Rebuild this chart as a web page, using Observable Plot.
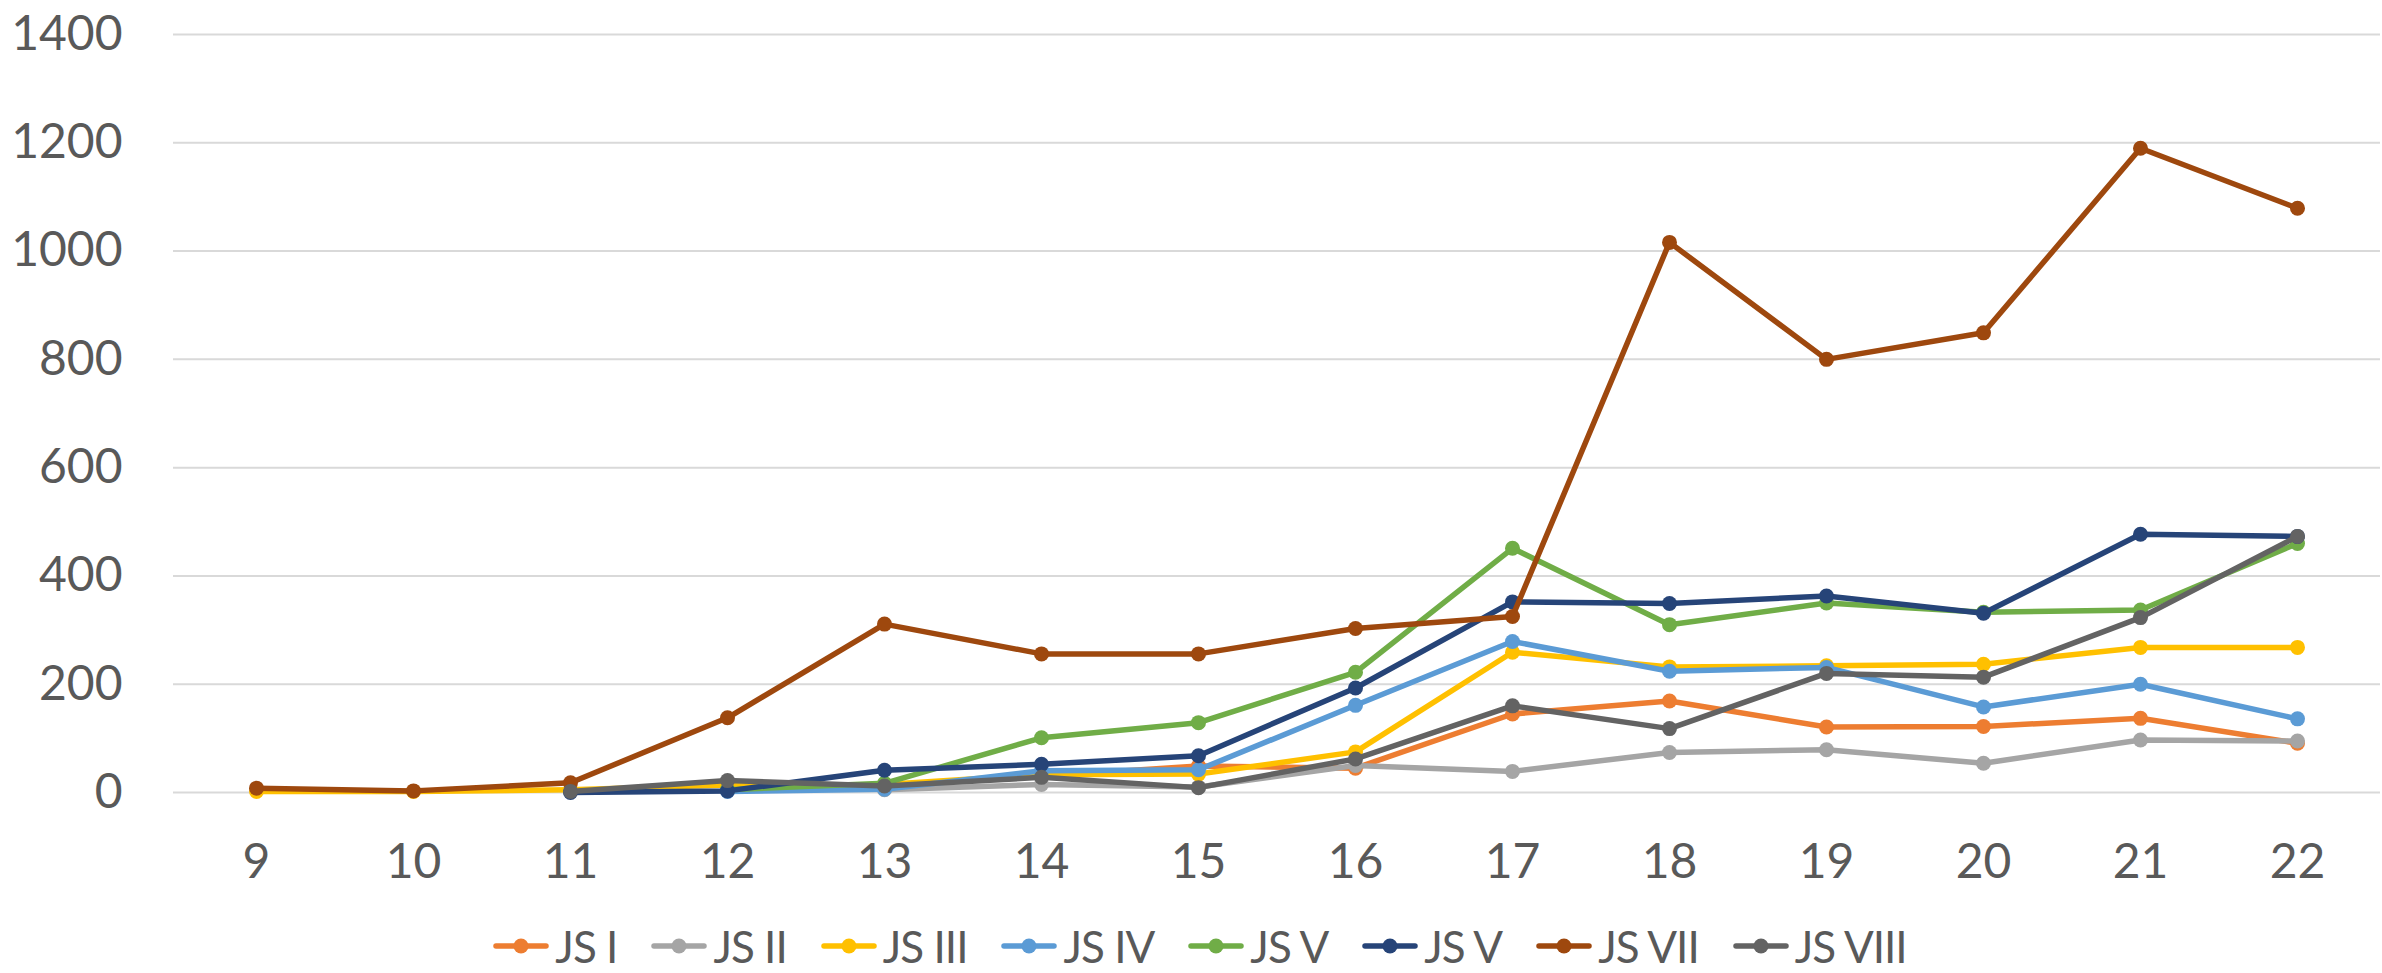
<!DOCTYPE html>
<html>
<head>
<meta charset="utf-8">
<script src="https://cdn.jsdelivr.net/npm/d3@7"></script>
<script src="https://cdn.jsdelivr.net/npm/@observablehq/plot@0.6"></script>
<style>
  html, body { margin: 0; padding: 0; background: #fff; }
  #wrap { width: 2382px; height: 973px; overflow: hidden; font-family: Lato, "Open Sans", sans-serif; }
  #legend { display: flex; justify-content: center; align-items: center; height: 73px; padding-top: 18px; padding-left: 18px; box-sizing: border-box; }
  .item { display: flex; align-items: center; margin: 0 17px; color: #595959; font-size: 44px; letter-spacing: -1px; }
  .item svg { margin-right: 6px; }
</style>
</head>
<body>
<div id="wrap">
  <div id="chart"></div>
  <div id="legend"></div>
</div>
<script>
// Categories (x axis)
const categories = [9, 10, 11, 12, 13, 14, 15, 16, 17, 18, 19, 20, 21, 22];
// Y ticks
const yTicks = [0, 200, 400, 600, 800, 1000, 1200, 1400];

// Series names and colours
const seriesNames = ["JS I", "JS II", "JS III", "JS IV", "JS V", "JS V", "JS VII", "JS VIII"];
const seriesColors = ["#ED7D31", "#A5A5A5", "#FFC000", "#5B9BD5", "#70AD47", "#264478", "#9E480E", "#636363"];

// Series values (null = no value)
const jsI    = [null, null, null, null, null, 30, 49, 45, 145, 169, 121, 122, 137, 91];
const jsII   = [null, null, null, null, 5, 15, 10, 50, 39, 74, 79, 54, 97, 95];
const jsIII  = [2, 2, 5, 14, 15, 33, 34, 75, 259, 232, 234, 237, 268, 268];
const jsIV   = [null, null, null, 2, 6, 40, 42, 161, 279, 224, 231, 158, 200, 136];
const jsV    = [null, null, null, 5, 17, 101, 129, 222, 451, 310, 350, 333, 337, 460];
const jsVb   = [null, null, 0, 3, 41, 52, 68, 193, 352, 349, 363, 331, 477, 473];
const jsVII  = [8, 3, 18, 138, 311, 256, 256, 303, 325, 1016, 800, 849, 1190, 1079];
const jsVIII = [null, null, 2, 22, 12, 28, 9, 62, 160, 118, 220, 213, 323, 473];

const seriesValues = [jsI, jsII, jsIII, jsIV, jsV, jsVb, jsVII, jsVIII];

const seriesMarks = [];
seriesValues.forEach((vals, i) => {
  const rows = [];
  vals.forEach((v, j) => { if (v !== null) rows.push({x: categories[j], y: v}); });
  seriesMarks.push(Plot.line(rows, {x: "x", y: "y", stroke: seriesColors[i], strokeWidth: 5.5, strokeLinejoin: "round", strokeLinecap: "round"}));
  seriesMarks.push(Plot.dot(rows, {x: "x", y: "y", fill: seriesColors[i], r: 7.5, stroke: "none"}));
});

const chart = Plot.plot({
  width: 2382,
  height: 900,
  marginLeft: 173,
  marginRight: 2,
  marginTop: 34,
  marginBottom: 108,
  style: {fontFamily: "Lato, 'Open Sans', sans-serif", fontSize: "48px", color: "#595959", background: "white", overflow: "visible"},
  x: {type: "point", domain: categories, padding: 0.5, label: null},
  y: {domain: [0, 1400], label: null},
  marks: [
    Plot.gridY(yTicks, {stroke: "#D9D9D9", strokeOpacity: 1, strokeWidth: 2}),
    Plot.axisX({tickSize: 0, tickPadding: 51, label: null, fontSize: 48}),
    Plot.axisY(yTicks, {tickSize: 0, tickPadding: 51, label: null, fontSize: 48, tickFormat: d => String(d)}),
    ...seriesMarks
  ]
});
document.getElementById("chart").appendChild(chart);

// Legend
const legend = document.getElementById("legend");
seriesNames.forEach((name, i) => {
  const item = document.createElement("div");
  item.className = "item";
  item.innerHTML = `<svg width="56" height="20"><line x1="3" y1="10" x2="53" y2="10" stroke="${seriesColors[i]}" stroke-width="5.5" stroke-linecap="round"/><circle cx="28" cy="10" r="7.5" fill="${seriesColors[i]}"/></svg><span>${name}</span>`;
  legend.appendChild(item);
});
</script>
</body>
</html>
